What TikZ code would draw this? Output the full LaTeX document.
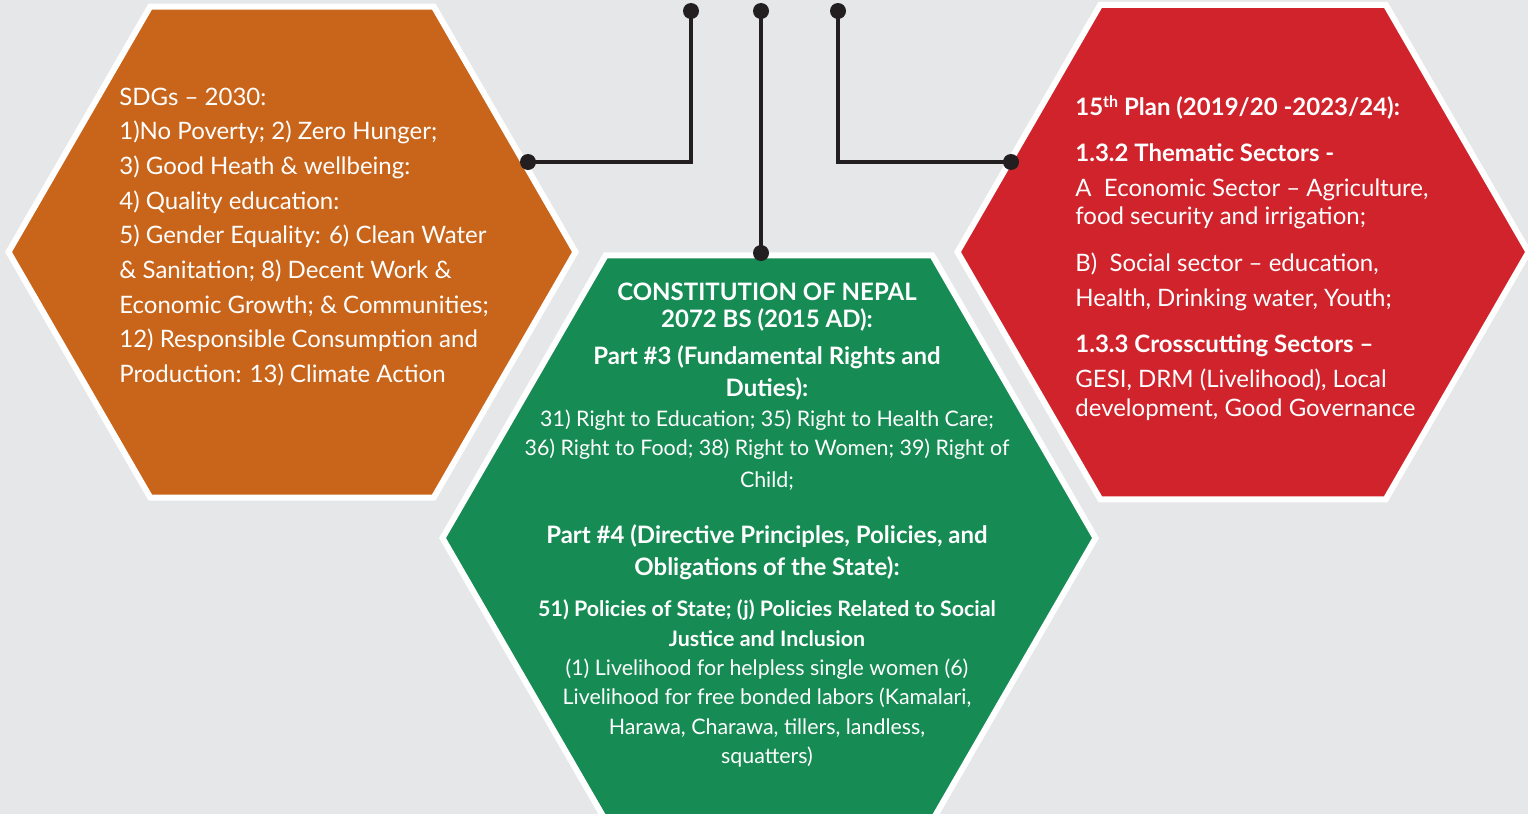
\documentclass[tikz,border=0pt]{standalone}
\usepackage{fontspec}
\setmainfont{Lato}
\definecolor{bgc}{RGB}{230,231,232}
\definecolor{orangec}{RGB}{201,101,26}
\definecolor{redc}{RGB}{208,35,43}
\definecolor{greenc}{RGB}{22,139,84}
\definecolor{linec}{RGB}{35,31,32}
\tikzset{
  hexa/.style={draw=white, line width=3pt, line join=miter},
  conn/.style={draw=linec, line width=2pt},
  dotc/.style={fill=linec},
  txt/.style={text=white, inner sep=0pt, anchor=base west, font=\fontsize{12}{14}\selectfont},
  txtb/.style={txt, font=\fontsize{12}{14}\selectfont\bfseries},
  gtxtb/.style={text=white, inner sep=0pt, anchor=base, font=\fontsize{12}{14}\selectfont\bfseries},
  gtxt/.style={text=white, inner sep=0pt, anchor=base, font=\fontsize{10.7}{13}\selectfont},
  gtxts/.style={text=white, inner sep=0pt, anchor=base, font=\fontsize{10.7}{13}\selectfont\bfseries},
}
\begin{document}
\begin{tikzpicture}[x=0.5pt,y=-0.5pt]
\useasboundingbox (0,0) rectangle (1528,814);
\fill[bgc] (0,0) rectangle (1528,814);

% hexagons
\path[hexa, fill=orangec] (8.5,252) -- (150.25,6.5) -- (433.75,6.5) -- (575.5,252) -- (433.75,497.5) -- (150.25,497.5) -- cycle;
\path[hexa, fill=redc] (957.5,252) -- (1100.25,4.75) -- (1385.75,4.75) -- (1528.5,252) -- (1385.75,499.25) -- (1100.25,499.25) -- cycle;
\path[hexa, fill=greenc] (442.5,538) -- (605.75,255.25) -- (932.25,255.25) -- (1095.5,538) -- (932.25,820.75) -- (605.75,820.75) -- cycle;

% connector end points
\coordinate (topA) at (691,11);
\coordinate (topB) at (761,11);
\coordinate (topC) at (838,11);
\coordinate (sdgEnd) at (528,162);
\coordinate (conEnd) at (761,253);
\coordinate (planEnd) at (1011,162);

\draw[conn] (topA) |- (sdgEnd);
\draw[conn] (topB) -- (conEnd);
\draw[conn] (topC) |- (planEnd);
\foreach \p in {topA,topB,topC,sdgEnd,conEnd,planEnd}
  \fill[dotc] (\p) circle[radius=8];

% orange text
\node[txt] (o1) at (119,105) {SDGs – 2030:};
\node[txt] (o2) at (119,139.7) {1)No Poverty; 2) Zero Hunger;};
\node[txt] (o3) at (119,174.4) {3) Good Heath \& wellbeing:};
\node[txt] (o4) at (119,209.1) {4) Quality education:};
\node[txt] (o5) at (119,243.8) {5) Gender Equality: 6) Clean Water};
\node[txt] (o6) at (119,278.5) {\& Sanitation; 8) Decent Work \&};
\node[txt] (o7) at (119,313.2) {Economic Growth; \& Communities;};
\node[txt] (o8) at (119,347.9) {12) Responsible Consumption and};
\node[txt] (o9) at (119,382.6) {Production: 13) Climate Action};

% red text
\node[txtb] (r1) at (1075,115) {15{\fontsize{8}{9}\selectfont\raisebox{0.45em}{th}} Plan (2019/20 -2023/24):};
\node[txtb] (r2) at (1075,161) {1.3.2 Thematic Sectors -};
\node[txt] (r3) at (1075,196) {A\ \ Economic Sector – Agriculture,};
\node[txt] (r4) at (1075,224) {food security and irrigation;};
\node[txt] (r5) at (1075,271.5) {B)\ \ Social sector – education,};
\node[txt] (r6) at (1075,306.5) {Health, Drinking water, Youth;};
\node[txtb] (r7) at (1075,352.5) {1.3.3 Crosscutting Sectors –};
\node[txt] (r8) at (1075,387.5) {GESI, DRM (Livelihood), Local};
\node[txt] (r9) at (1075,416.5) {development, Good Governance};

% green text
\node[gtxtb] (g1) at (767,300) {CONSTITUTION OF NEPAL};
\node[gtxtb] (g2) at (767,327) {2072 BS (2015 AD):};
\node[gtxtb] (g3) at (767,364) {Part \#3 (Fundamental Rights and};
\node[gtxtb] (g4) at (767,396) {Duties):};
\node[gtxt] (g5) at (767,426) {31) Right to Education; 35) Right to Health Care;};
\node[gtxt] (g6) at (767,455) {36) Right to Food; 38) Right to Women; 39) Right of};
\node[gtxt] (g7) at (767,487) {Child;};
\node[gtxtb] (g8) at (767,543) {Part \#4 (Directive Principles, Policies, and};
\node[gtxtb] (g9) at (767,575) {Obligations of the State):};
\node[gtxts] (g10) at (767,616) {51) Policies of State; (j) Policies Related to Social};
\node[gtxts] (g11) at (767,646) {Justice and Inclusion};
\node[gtxt] (g12) at (767,675.5) {(1) Livelihood for helpless single women (6)};
\node[gtxt] (g13) at (767,704) {Livelihood for free bonded labors (Kamalari,};
\node[gtxt] (g14) at (767,734) {Harawa, Charawa, tillers, landless,};
\node[gtxt] (g15) at (767,763) {squatters)};
\end{tikzpicture}
\end{document}
